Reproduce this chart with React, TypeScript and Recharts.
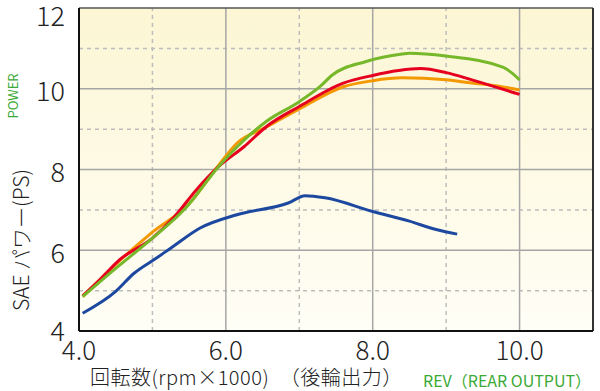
import { LineChart, Line, XAxis, YAxis, ReferenceLine, ReferenceArea } from 'recharts';

// rpm (x1000) / SAE power (PS)
const GREEN_RPM = [4.05, 4.5, 5.0, 5.45, 5.9, 6.25, 6.55, 7.0, 7.28, 7.45, 7.9, 8.4, 8.5, 9.0, 9.78, 10.0];
const GREEN_PS = [4.85, 5.55, 6.3, 7.04, 8.07, 8.73, 9.19, 9.68, 10.05, 10.34, 10.67, 10.86, 10.88, 10.81, 10.53, 10.22];

const RED_RPM = [4.05, 4.3, 4.55, 5.0, 5.3, 5.6, 5.9, 6.25, 6.55, 7.0, 7.6, 8.0, 8.35, 8.65, 9.0, 9.35, 10.0];
const RED_PS = [4.87, 5.3, 5.76, 6.3, 6.83, 7.5, 8.07, 8.57, 9.06, 9.56, 10.14, 10.33, 10.45, 10.5, 10.4, 10.22, 9.86];

const ORANGE_RPM = [4.05, 4.5, 5.0, 5.5, 5.9, 6.15, 6.55, 7.0, 7.6, 8.0, 8.4, 9.0, 9.35, 9.7, 10.0];
const ORANGE_PS = [4.85, 5.65, 6.45, 7.15, 8.1, 8.65, 9.05, 9.5, 10.05, 10.2, 10.27, 10.22, 10.14, 10.07, 9.97];

const BLUE_RPM = [4.05, 4.5, 4.75, 5.05, 5.3, 5.65, 6.15, 6.85, 7.08, 7.35, 8.0, 8.5, 8.85, 9.15];
const BLUE_PS = [4.44, 4.98, 5.43, 5.8, 6.12, 6.55, 6.88, 7.17, 7.35, 7.3, 6.96, 6.72, 6.52, 6.4];

const X_TICKS = [4, 6, 8, 10];
const Y_TICKS = [4, 6, 8, 10, 12];
const X_MAJOR = [6, 8, 10];
const X_MINOR = [5, 7, 9];
const Y_MAJOR = [6, 8, 10];
const Y_MINOR = [5, 7, 9, 11];

const FONT = '"Noto Sans CJK JP", "DejaVu Sans", sans-serif';

const toPoints = (xs: number[], ys: number[]) => xs.map((x, i) => ({ rpm: x, ps: ys[i] }));

const SERIES = [
  { key: 'blue', color: '#1d48a0', data: toPoints(BLUE_RPM, BLUE_PS) },
  { key: 'orange', color: '#f39800', data: toPoints(ORANGE_RPM, ORANGE_PS) },
  { key: 'red', color: '#e60020', data: toPoints(RED_RPM, RED_PS) },
  { key: 'green', color: '#76b82a', data: toPoints(GREEN_RPM, GREEN_PS) },
];

// y tick labels; the top one sits a little lower so it stays inside the picture
function YTick(props: any) {
  const { x, y, payload } = props;
  const shift = payload.value === 12 ? 7 : payload.value === 4 ? 0 : 3;
  return (
    <text
      x={x}
      y={y + shift}
      dy="0.36em"
      textAnchor="end"
      fontSize={27}
      fill="#222"
      fontFamily={FONT}
      fontWeight={300}
    >
      {payload.value}
    </text>
  );
}

export default function App() {
  return (
    <div style={{ position: 'absolute', left: 0, top: 0, width: 600, height: 391, background: '#fff', fontFamily: FONT }}>
      <LineChart width={600} height={391} margin={{ top: 8, right: 7, bottom: 0, left: 0 }}>
        <defs>
          <linearGradient id="bg" x1="0" y1="0" x2="0" y2="1">
            <stop offset="0%" stopColor="#fcf6d4" />
            <stop offset="100%" stopColor="#fffef6" />
          </linearGradient>
        </defs>
        <XAxis
          dataKey="rpm"
          type="number"
          domain={[4, 11]}
          ticks={X_TICKS}
          tickFormatter={(v: number) => v.toFixed(1)}
          allowDuplicatedCategory={false}
          height={60}
          tickSize={0}
          tickMargin={11}
          axisLine={{ stroke: '#111', strokeWidth: 2 }}
          tick={{ fontSize: 26, fill: '#222', fontFamily: FONT, fontWeight: 300 }}
        />
        <YAxis
          dataKey="ps"
          type="number"
          domain={[4, 12]}
          ticks={Y_TICKS}
          width={79}
          tickSize={0}
          tickMargin={14}
          axisLine={{ stroke: '#111', strokeWidth: 2 }}
          tick={<YTick />}
        />
        <ReferenceArea x1={4} x2={11} y1={4} y2={12} fill="url(#bg)" fillOpacity={1} stroke="none" />
        {X_MINOR.map((x) => (
          <ReferenceLine key={`xm${x}`} x={x} stroke="#bdbdbd" strokeWidth={1.5} strokeDasharray="4 4" />
        ))}
        {Y_MINOR.map((y) => (
          <ReferenceLine key={`ym${y}`} y={y} stroke="#bdbdbd" strokeWidth={1.5} strokeDasharray="4 4" />
        ))}
        {X_MAJOR.map((x) => (
          <ReferenceLine key={`xM${x}`} x={x} stroke="#a6a6a6" strokeWidth={1.5} />
        ))}
        {Y_MAJOR.map((y) => (
          <ReferenceLine key={`yM${y}`} y={y} stroke="#a6a6a6" strokeWidth={1.5} />
        ))}
        <ReferenceLine y={12} stroke="#555" strokeWidth={1.5} />
        <ReferenceLine x={11} stroke="#333" strokeWidth={2} />
        {SERIES.map((s) => (
          <Line
            key={s.key}
            data={s.data}
            dataKey="ps"
            type="monotone"
            stroke={s.color}
            strokeWidth={3}
            dot={false}
            activeDot={false}
            isAnimationActive={false}
          />
        ))}
      </LineChart>
      <div
        style={{
          position: 'absolute',
          left: 90,
          top: 367,
          fontSize: 20,
          lineHeight: '20px',
          letterSpacing: 0.5,
          color: '#222',
          whiteSpace: 'nowrap',
          fontWeight: 300,
        }}
      >
        回転数(rpm×1000)　（後輪出力）
      </div>
      <div
        style={{
          position: 'absolute',
          left: 423,
          top: 372,
          fontSize: 16,
          lineHeight: '16px',
          color: '#3aa935',
          whiteSpace: 'nowrap',
        }}
      >
        REV（REAR OUTPUT）
      </div>
      <div
        style={{
          position: 'absolute',
          left: 20,
          top: 240,
          transform: 'translate(-50%, -50%) rotate(-90deg)',
          fontSize: 21,
          lineHeight: '21px',
          color: '#222',
          whiteSpace: 'nowrap',
          fontWeight: 300,
        }}
      >
        SAE パワー(PS)
      </div>
      <div
        style={{
          position: 'absolute',
          left: 12,
          top: 96,
          transform: 'translate(-50%, -50%) rotate(-90deg)',
          fontSize: 13,
          lineHeight: '13px',
          color: '#3aa935',
          whiteSpace: 'nowrap',
        }}
      >
        POWER
      </div>
    </div>
  );
}
